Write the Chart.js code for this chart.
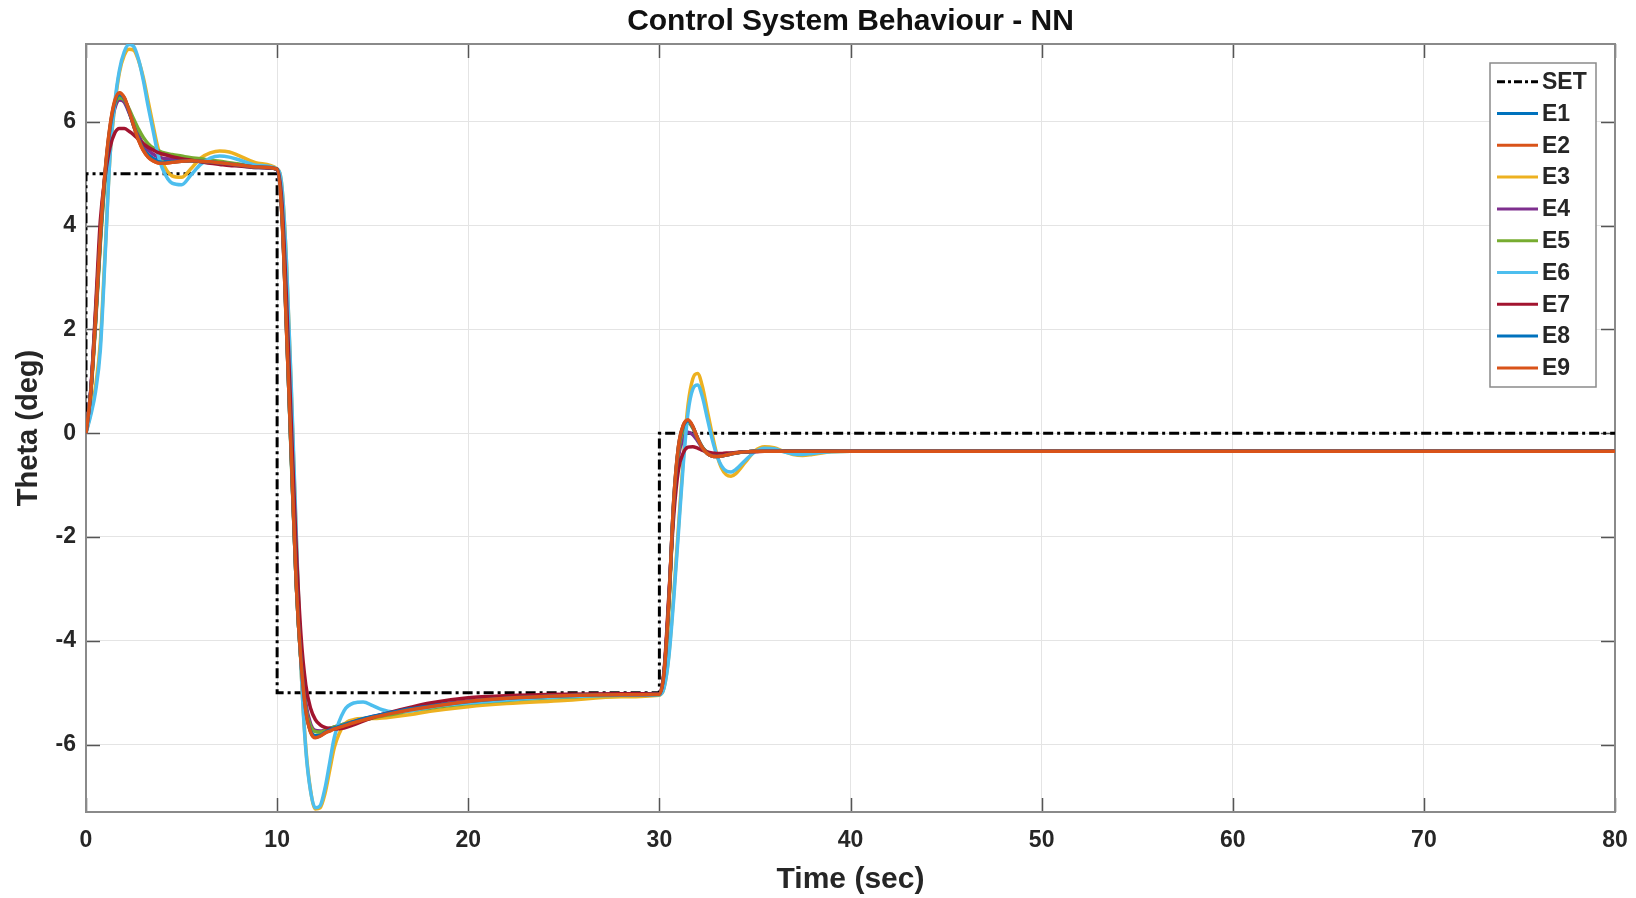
<!DOCTYPE html>
<html>
<head>
<meta charset="utf-8">
<script src="https://cdn.jsdelivr.net/npm/chart.js@4/dist/chart.umd.min.js"></script>
<style>
html,body{margin:0;padding:0;background:#ffffff;}
#wrap{width:1636px;height:898px;position:relative;}
</style>
</head>
<body>
<div id="wrap"><canvas id="c" width="1636" height="898"></canvas></div>
<script>
// ---------- texts ----------
const titleText = 'Control System Behaviour - NN';
const xTitle = 'Time (sec)';
const yTitle = 'Theta (deg)';
const seriesNames = ['SET','E1','E2','E3','E4','E5','E6','E7','E8','E9'];

// ---------- tick labels ----------
const xTicks = [0,10,20,30,40,50,60,70,80];
const yTicks = [-6,-4,-2,0,2,4,6];

// ---------- set point ----------
const setTime   = [0, 0, 10, 10, 30, 30, 80];
const setValues = [0, 5, 5, -5, -5, 0, 0];

// ---------- sample times ----------
const time = [
  0,0.25,0.5,0.75,1,1.25,1.5,1.75,2,2.25,2.5,2.75,3,3.25,3.5,3.75,4,4.5,5,5.5,6,6.5,7,7.5,8,9,
  10,10.25,10.5,10.75,11,11.25,11.5,11.75,12,12.25,12.5,12.75,13,13.5,14,14.5,15,15.5,16,17,18,20,22,25,28,
  30,30.25,30.5,30.75,31,31.25,31.5,31.75,32,32.25,32.5,32.75,33,33.25,33.5,33.75,34,34.5,35,35.5,36,36.5,37,37.5,38,39,40,45,50,60,70,80
];

// ---------- responses ----------
const E1 = [
  0,0.8,2.15,3.7,4.95,5.82,6.33,6.5,6.43,6.2,5.93,5.69,5.5,5.37,5.3,5.26,5.24,5.24,5.25,5.25,5.24,5.22,5.2,5.18,5.16,5.12,
  5.09,4.25,1.95,-0.55,-2.9,-4.4,-5.32,-5.72,-5.83,-5.81,-5.76,-5.72,-5.68,-5.62,-5.56,-5.51,-5.47,-5.43,-5.39,-5.32,-5.26,-5.17,-5.11,-5.07,-5.04,
  -5.03,-4.62,-3.25,-1.35,-0.3,0.1,0.22,0.11,-0.1,-0.27,-0.38,-0.43,-0.45,-0.44,-0.42,-0.4,-0.38,-0.36,-0.35,-0.35,-0.35,-0.35,-0.35,-0.35,-0.35,-0.35,-0.35,-0.35,-0.35,-0.35,-0.35,-0.35
];
const E2 = [
  0,0.8,2.2,3.78,5.03,5.88,6.38,6.55,6.46,6.21,5.91,5.65,5.45,5.32,5.25,5.21,5.2,5.22,5.24,5.25,5.24,5.23,5.21,5.19,5.17,5.13,
  5.09,4.2,1.9,-0.5,-2.9,-4.4,-5.34,-5.75,-5.86,-5.83,-5.77,-5.73,-5.69,-5.63,-5.57,-5.52,-5.47,-5.43,-5.39,-5.32,-5.27,-5.17,-5.11,-5.06,-5.04,
  -5.03,-4.6,-3.2,-1.3,-0.25,0.15,0.25,0.13,-0.1,-0.28,-0.39,-0.44,-0.45,-0.44,-0.42,-0.4,-0.38,-0.36,-0.35,-0.35,-0.35,-0.35,-0.35,-0.35,-0.35,-0.35,-0.35,-0.35,-0.35,-0.35,-0.35,-0.35
];
const E3 = [
  0,0.4,0.9,1.75,3.5,5.3,6.3,6.95,7.28,7.4,7.38,7.18,6.85,6.4,5.95,5.52,5.22,4.96,4.93,5.1,5.3,5.4,5.44,5.42,5.35,5.2,
  5.09,4.75,3.2,0.7,-2.0,-4.5,-6.05,-6.88,-7.24,-7.22,-6.95,-6.5,-6.05,-5.62,-5.52,-5.5,-5.5,-5.49,-5.47,-5.42,-5.36,-5.27,-5.21,-5.15,-5.08,
  -5.05,-4.9,-4.25,-3.1,-1.8,-0.5,0.55,1.05,1.15,0.9,0.45,0.0,-0.4,-0.67,-0.8,-0.83,-0.78,-0.56,-0.34,-0.26,-0.28,-0.35,-0.41,-0.43,-0.41,-0.36,-0.35,-0.35,-0.35,-0.35,-0.35,-0.35
];
const E4 = [
  0,0.85,2.3,3.85,5.0,5.8,6.25,6.42,6.38,6.18,5.95,5.74,5.57,5.46,5.38,5.33,5.3,5.28,5.27,5.26,5.25,5.23,5.21,5.19,5.17,5.13,
  5.09,4.3,2.05,-0.4,-2.7,-4.25,-5.2,-5.6,-5.73,-5.74,-5.72,-5.69,-5.66,-5.61,-5.56,-5.51,-5.46,-5.42,-5.38,-5.31,-5.25,-5.16,-5.1,-5.06,-5.03,
  -5.03,-4.6,-3.15,-1.4,-0.45,-0.1,0.02,-0.03,-0.15,-0.28,-0.36,-0.4,-0.42,-0.41,-0.4,-0.39,-0.38,-0.36,-0.35,-0.35,-0.35,-0.35,-0.35,-0.35,-0.35,-0.35,-0.35,-0.35,-0.35,-0.35,-0.35,-0.35
];
const E5 = [
  0,0.75,2.1,3.65,4.9,5.8,6.32,6.46,6.42,6.25,6.05,5.86,5.7,5.58,5.5,5.45,5.41,5.37,5.34,5.31,5.29,5.26,5.24,5.21,5.19,5.14,
  5.09,4.3,2.0,-0.6,-2.9,-4.4,-5.3,-5.65,-5.75,-5.76,-5.73,-5.69,-5.66,-5.61,-5.57,-5.53,-5.49,-5.45,-5.42,-5.35,-5.3,-5.21,-5.15,-5.09,-5.05,
  -5.04,-4.65,-3.3,-1.4,-0.35,0.07,0.2,0.1,-0.1,-0.27,-0.37,-0.42,-0.44,-0.43,-0.41,-0.39,-0.38,-0.36,-0.35,-0.35,-0.35,-0.35,-0.35,-0.35,-0.35,-0.35,-0.35,-0.35,-0.35,-0.35,-0.35,-0.35
];
const E6 = [
  0,0.35,0.8,1.6,3.4,5.3,6.35,7.0,7.35,7.49,7.45,7.2,6.8,6.3,5.85,5.4,5.1,4.82,4.79,4.98,5.18,5.3,5.34,5.32,5.27,5.16,
  5.09,4.75,3.2,0.8,-1.9,-4.5,-6.1,-6.9,-7.22,-7.18,-6.85,-6.35,-5.85,-5.35,-5.2,-5.18,-5.25,-5.33,-5.37,-5.35,-5.28,-5.2,-5.14,-5.08,-5.05,
  -5.04,-4.9,-4.3,-3.2,-1.9,-0.6,0.4,0.85,0.93,0.7,0.3,-0.1,-0.42,-0.63,-0.73,-0.75,-0.7,-0.52,-0.36,-0.29,-0.3,-0.36,-0.4,-0.41,-0.39,-0.36,-0.35,-0.35,-0.35,-0.35,-0.35,-0.35
];
const E7 = [
  0,0.8,2.4,4.1,4.95,5.5,5.78,5.87,5.87,5.82,5.75,5.66,5.58,5.51,5.46,5.41,5.38,5.33,5.29,5.26,5.23,5.2,5.18,5.16,5.15,5.12,
  5.09,4.45,2.5,0.1,-2.2,-3.9,-4.85,-5.3,-5.52,-5.62,-5.67,-5.69,-5.7,-5.68,-5.62,-5.55,-5.48,-5.42,-5.37,-5.28,-5.2,-5.1,-5.06,-5.03,-5.02,
  -5.02,-4.55,-3.1,-1.6,-0.7,-0.38,-0.27,-0.26,-0.29,-0.33,-0.36,-0.38,-0.39,-0.39,-0.38,-0.38,-0.37,-0.36,-0.36,-0.35,-0.35,-0.35,-0.35,-0.35,-0.35,-0.35,-0.35,-0.35,-0.35,-0.35,-0.35,-0.35
];
const E8 = [
  0,0.8,2.18,3.75,5.0,5.86,6.36,6.53,6.45,6.21,5.92,5.67,5.47,5.34,5.27,5.23,5.22,5.23,5.24,5.25,5.24,5.23,5.21,5.19,5.17,5.13,
  5.09,4.22,1.92,-0.52,-2.9,-4.4,-5.34,-5.74,-5.85,-5.83,-5.77,-5.72,-5.68,-5.62,-5.56,-5.5,-5.46,-5.42,-5.38,-5.31,-5.26,-5.17,-5.11,-5.06,-5.04,
  -5.03,-4.6,-3.22,-1.32,-0.27,0.13,0.24,0.12,-0.1,-0.28,-0.39,-0.44,-0.45,-0.44,-0.42,-0.4,-0.38,-0.36,-0.35,-0.35,-0.35,-0.35,-0.35,-0.35,-0.35,-0.35,-0.35,-0.35,-0.35,-0.35,-0.35,-0.35
];
const E9 = [
  0,0.8,2.2,3.8,5.05,5.9,6.4,6.56,6.47,6.22,5.92,5.65,5.45,5.32,5.25,5.21,5.2,5.22,5.24,5.25,5.24,5.23,5.21,5.19,5.17,5.13,
  5.09,4.2,1.9,-0.5,-2.9,-4.4,-5.35,-5.76,-5.87,-5.84,-5.78,-5.74,-5.7,-5.64,-5.58,-5.53,-5.48,-5.44,-5.4,-5.33,-5.27,-5.17,-5.11,-5.06,-5.04,
  -5.03,-4.6,-3.2,-1.3,-0.25,0.15,0.26,0.13,-0.1,-0.28,-0.39,-0.44,-0.45,-0.44,-0.42,-0.4,-0.38,-0.36,-0.35,-0.35,-0.35,-0.35,-0.35,-0.35,-0.35,-0.35,-0.35,-0.35,-0.35,-0.35,-0.35,-0.35
];

const responses = [E1,E2,E3,E4,E5,E6,E7,E8,E9];
const colors = ['#0072BD','#D95319','#EDB120','#7E2F8E','#77AC30','#4DBEEE','#A2142F','#0072BD','#D95319'];

responses.forEach((s,i)=>{ if (s.length !== time.length) throw new Error('E'+(i+1)+' length '+s.length+' != '+time.length); });

const FONT = "'Liberation Sans', Arial, Helvetica, sans-serif";
const TXT = '#262626';
const setDash = [10,4,3,4];

const datasets = [{
  label: 'SET',
  data: setTime.map((t,i)=>({x:t, y:setValues[i]})),
  borderColor: '#000000',
  borderWidth: 3,
  borderDash: setDash,
  tension: 0,
  pointRadius: 0,
  order: 10
}].concat(responses.map((s,i)=>({
  label: seriesNames[i+1],
  data: time.map((t,j)=>({x:t, y:s[j]})),
  borderColor: colors[i],
  borderWidth: 3.5,
  cubicInterpolationMode: 'monotone',
  pointRadius: 0,
  order: 9 - i
})));

const framePlugin = {
  id: 'frame',
  beforeDatasetsDraw(chart){
    const {ctx, chartArea:a, scales} = chart;
    const x = scales.x, y = scales.y;
    const L = 14;
    ctx.save();
    ctx.strokeStyle = '#555555';
    ctx.lineWidth = 1.5;
    ctx.beginPath();
    xTicks.forEach(v=>{
      const px = Math.round(x.getPixelForValue(v)) + 0.5;
      ctx.moveTo(px, a.bottom); ctx.lineTo(px, a.bottom - L);
      ctx.moveTo(px, a.top); ctx.lineTo(px, a.top + L);
    });
    yTicks.forEach(v=>{
      const py = Math.round(y.getPixelForValue(v)) + 0.5;
      ctx.moveTo(a.left, py); ctx.lineTo(a.left + L, py);
      ctx.moveTo(a.right, py); ctx.lineTo(a.right - L, py);
    });
    ctx.stroke();
    ctx.strokeStyle = '#8a8a8a';
    ctx.lineWidth = 2;
    ctx.strokeRect(a.left, a.top, a.right - a.left, a.bottom - a.top);
    ctx.restore();
  },
  afterDraw(chart){
    const {ctx, chartArea:a} = chart;
    ctx.save();
    // title centred over the axes
    ctx.fillStyle = '#111111';
    ctx.font = 'bold 30px ' + FONT;
    ctx.textAlign = 'center';
    ctx.textBaseline = 'middle';
    ctx.fillText(titleText, (a.left + a.right) / 2, 22);

    // legend box inside the axes, top right
    const w = 106, h = 324;
    const bx = a.right - 19 - w, by = a.top + 19;
    ctx.fillStyle = '#ffffff';
    ctx.fillRect(bx, by, w, h);
    ctx.strokeStyle = '#8a8a8a';
    ctx.lineWidth = 1.5;
    ctx.strokeRect(bx, by, w, h);
    ctx.font = 'bold 23px ' + FONT;
    ctx.textAlign = 'left';
    ctx.textBaseline = 'middle';
    chart.data.datasets.forEach((ds,i)=>{
      const cy = by + 18.7 + i * 31.8;
      ctx.beginPath();
      ctx.strokeStyle = ds.borderColor;
      ctx.lineWidth = 3;
      ctx.setLineDash(ds.borderDash ? [8,3,3,3] : []);
      ctx.moveTo(bx + 7, cy);
      ctx.lineTo(bx + 48, cy);
      ctx.stroke();
      ctx.setLineDash([]);
      ctx.fillStyle = TXT;
      ctx.fillText(ds.label, bx + 52, cy + 1);
    });
    ctx.restore();
  }
};

new Chart(document.getElementById('c'), {
  type: 'line',
  data: { datasets },
  options: {
    responsive: false,
    animation: false,
    layout: { padding: { top: 44, right: 21, left: 0, bottom: 0 } },
    plugins: {
      legend: { display: false },
      title: { display: false },
      tooltip: { enabled: false }
    },
    scales: {
      x: {
        type: 'linear',
        min: 0, max: 80,
        afterBuildTicks: s => { s.ticks = xTicks.map(v=>({value:v})); },
        afterFit: s => { s.height = 86; s.paddingLeft = 0; s.paddingRight = 0; },
        grid: { color: '#e4e4e4', lineWidth: 1, drawTicks: false },
        border: { display: false },
        ticks: { color: TXT, font: { family: FONT, size: 23, weight: 'bold' }, padding: 15, maxRotation: 0 },
        title: { display: true, text: xTitle, color: TXT, font: { family: FONT, size: 30, weight: 'bold' }, padding: { top: 0, bottom: 0 } }
      },
      y: {
        type: 'linear',
        min: -7.3, max: 7.5,
        afterBuildTicks: s => { s.ticks = yTicks.map(v=>({value:v})); },
        afterFit: s => { s.width = 86; s.paddingTop = 0; s.paddingBottom = 0; },
        grid: { color: '#e4e4e4', lineWidth: 1, drawTicks: false },
        border: { display: false },
        ticks: { color: TXT, font: { family: FONT, size: 23, weight: 'bold' }, padding: 10 },
        title: { display: true, text: yTitle, color: TXT, font: { family: FONT, size: 29, weight: 'bold' }, padding: { top: 12, bottom: 0 } }
      }
    }
  },
  plugins: [framePlugin]
});
</script>
</body>
</html>
